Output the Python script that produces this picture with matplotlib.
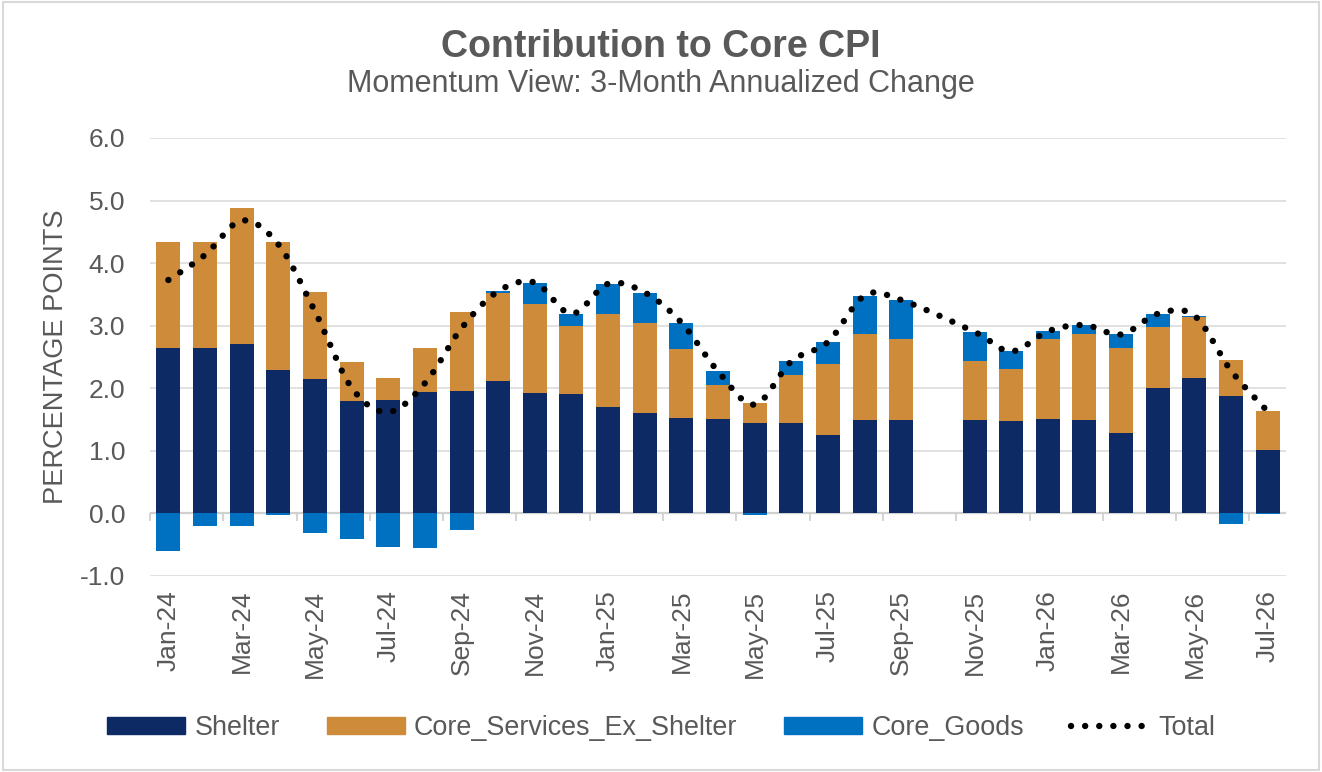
import numpy as np
import matplotlib
matplotlib.use('Agg')
import matplotlib.pyplot as plt
from matplotlib.patches import Patch, Rectangle
from matplotlib.lines import Line2D

plt.rcParams['font.family'] = ['Liberation Sans', 'DejaVu Sans']

months = ['Jan-24', 'Feb-24', 'Mar-24', 'Apr-24', 'May-24', 'Jun-24', 'Jul-24', 'Aug-24',
          'Sep-24', 'Oct-24', 'Nov-24', 'Dec-24', 'Jan-25', 'Feb-25', 'Mar-25', 'Apr-25',
          'May-25', 'Jun-25', 'Jul-25', 'Aug-25', 'Sep-25', 'Oct-25', 'Nov-25', 'Dec-25',
          'Jan-26', 'Feb-26', 'Mar-26', 'Apr-26', 'May-26', 'Jun-26', 'Jul-26']

shelter = [2.65, 2.64, 2.70, 2.29, 2.15, 1.80, 1.82, 1.94, 1.96, 2.11, 1.92, 1.91,
           1.70, 1.61, 1.52, 1.51, 1.44, 1.45, 1.25, 1.49, 1.49, np.nan, 1.50, 1.48,
           1.51, 1.50, 1.29, 2.00, 2.16, 1.88, 1.02]
services = [1.68, 1.69, 2.18, 2.04, 1.39, 0.62, 0.34, 0.70, 1.26, 1.42, 1.42, 1.08,
            1.48, 1.44, 1.10, 0.54, 0.33, 0.76, 1.14, 1.38, 1.30, np.nan, 0.93, 0.82,
            1.27, 1.37, 1.36, 0.98, 0.98, 0.57, 0.62]
goods = [-0.60, -0.20, -0.20, -0.03, -0.31, -0.41, -0.54, -0.56, -0.26, 0.02, 0.35, 0.20,
         0.49, 0.48, 0.43, 0.22, -0.03, 0.22, 0.35, 0.61, 0.62, np.nan, 0.47, 0.29,
         0.13, 0.14, 0.21, 0.21, 0.02, -0.17, -0.01]

c_shelter = '#0E2A64'
c_services = '#CE8B3A'
c_goods = '#0070C0'
grey = '#595959'


def smooth(xs, ys, steps=24):
    # Excel-style smoothed line (Bezier through points, Catmull-Rom tangents)
    pts = np.column_stack([xs, ys])
    ext = np.vstack([pts[0], pts, pts[-1]])
    out = []
    t = np.linspace(0, 1, steps, endpoint=False)[:, None]
    for i in range(len(pts) - 1):
        p0, p3 = ext[i + 1], ext[i + 2]
        c1 = p0 + (ext[i + 2] - ext[i]) / 6
        c2 = p3 - (ext[i + 3] - ext[i + 1]) / 6
        seg = (1 - t) ** 3 * p0 + 3 * (1 - t) ** 2 * t * c1 + 3 * (1 - t) * t ** 2 * c2 + t ** 3 * p3
        out.append(seg)
    out.append(pts[-1][None, :])
    out = np.vstack(out)
    return out[:, 0], out[:, 1]


x = np.arange(len(months))
s = np.array(shelter)
v = np.array(services)
g = np.array(goods)
total = s + v + g
g_bottom = np.where(g > 0, s + v, 0)

fig = plt.figure(figsize=(13.22, 7.72), dpi=100)
ax = fig.add_axes([0.1135, 0.2539, 0.8593, 0.5674])

w = 0.655
ax.bar(x, s, w, color=c_shelter, zorder=2)
ax.bar(x, v, w, bottom=s, color=c_services, zorder=2)
ax.bar(x, g, w, bottom=g_bottom, color=c_goods, zorder=2)

ok = ~np.isnan(total)
sx, sy = smooth(x[ok], total[ok])
ax.plot(sx, sy, color='black', lw=4.6, linestyle=(0, (0.01, 2.2)),
        dash_capstyle='round', zorder=3)

ax.set_xlim(-0.5, len(months) - 0.5)
ax.set_ylim(-1, 6)
ax.set_yticks(np.arange(-1, 7, 1))
ax.set_yticklabels([f'{t:.1f}' for t in np.arange(-1, 7, 1)])
ax.yaxis.grid(True, color='#D9D9D9', lw=1.1, zorder=0)
ax.set_axisbelow(True)
ax.axhline(0, color='#D0D0D0', lw=1.6, zorder=1)

ax.set_xticks(x[::2])
ax.set_xticklabels(months[::2], rotation=90)
ax.tick_params(axis='x', length=0, pad=10, labelsize=19, labelcolor=grey)
ax.tick_params(axis='y', length=0, pad=18, labelsize=19, labelcolor=grey)
for sp in ax.spines.values():
    sp.set_visible(False)

# boundary tick marks hanging from the zero line
sec = ax.secondary_xaxis(1 / 7)
sec.set_xticks(np.arange(-0.5, len(months), 2))
sec.set_xticklabels([])
sec.tick_params(axis='x', direction='out', length=6, width=1.3, color='#D0D0D0')
sec.spines['bottom'].set_visible(False)

ax.set_ylabel('PERCENTAGE POINTS', fontsize=19.6, color=grey)
ax.yaxis.set_label_coords(-0.071, 0.50)

fig.text(0.5, 1 - 47 / 772, 'Contribution to Core CPI', ha='center', va='center',
         fontsize=27, fontweight='bold', color=grey)
fig.text(0.5, 1 - 84 / 772, 'Momentum View: 3-Month Annualized Change', ha='center',
         va='center', fontsize=22, color=grey)

handles = [Patch(color=c_shelter, label='Shelter'),
           Patch(color=c_services, label='Core_Services_Ex_Shelter'),
           Patch(color=c_goods, label='Core_Goods'),
           Line2D([], [], color='black', lw=4.6, linestyle=(0, (0.01, 2.2)),
                  dash_capstyle='round', label='Total')]
leg = fig.legend(handles=handles, loc='center', bbox_to_anchor=(0.5, 1 - 728 / 772),
                 ncol=4, frameon=False, fontsize=19.4, handlelength=2.9, handleheight=0.57,
                 handletextpad=0.34, columnspacing=1.74, labelcolor=grey)

fig.patches.append(Rectangle((0.002, 0.002), 0.996, 0.996, transform=fig.transFigure,
                             fill=False, edgecolor='#D9D9D9', lw=1.5))

fig.savefig('out.png', dpi=100)
